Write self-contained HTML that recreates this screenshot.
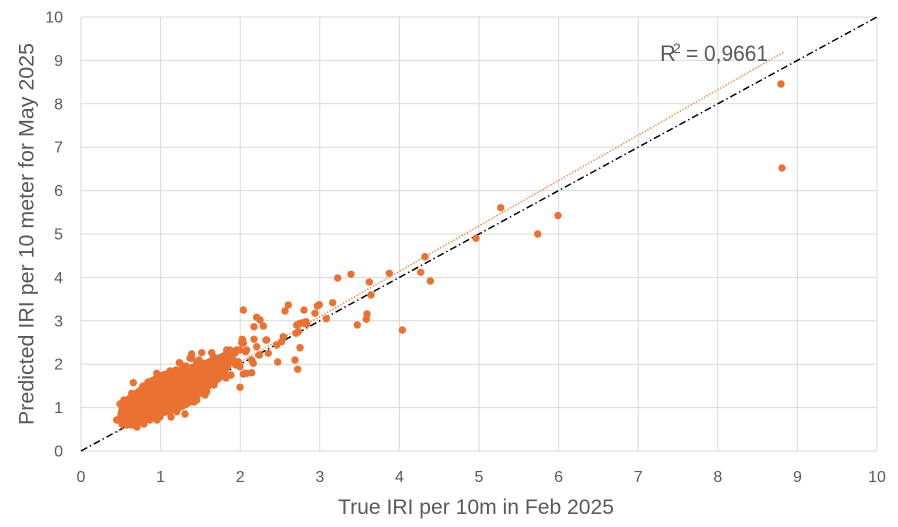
<!DOCTYPE html>
<html><head><meta charset="utf-8"><style>
html,body{margin:0;padding:0;background:#fff;}
svg{display:block;font-family:"Liberation Sans",Arial,sans-serif;}
</style></head><body>
<svg width="898" height="527" viewBox="0 0 898 527" xmlns="http://www.w3.org/2000/svg">
<rect width="898" height="527" fill="#fff"/>
<g stroke="#d9d9d9" stroke-width="1">
<line x1="160.6" y1="17" x2="160.6" y2="451"/><line x1="240.2" y1="17" x2="240.2" y2="451"/><line x1="319.8" y1="17" x2="319.8" y2="451"/><line x1="399.4" y1="17" x2="399.4" y2="451"/><line x1="479" y1="17" x2="479" y2="451"/><line x1="558.6" y1="17" x2="558.6" y2="451"/><line x1="638.2" y1="17" x2="638.2" y2="451"/><line x1="717.8" y1="17" x2="717.8" y2="451"/><line x1="797.4" y1="17" x2="797.4" y2="451"/><line x1="877" y1="17" x2="877" y2="451"/>
<line x1="81" y1="17" x2="877" y2="17"/><line x1="81" y1="60.4" x2="877" y2="60.4"/><line x1="81" y1="103.8" x2="877" y2="103.8"/><line x1="81" y1="147.2" x2="877" y2="147.2"/><line x1="81" y1="190.6" x2="877" y2="190.6"/><line x1="81" y1="234" x2="877" y2="234"/><line x1="81" y1="277.4" x2="877" y2="277.4"/><line x1="81" y1="320.8" x2="877" y2="320.8"/><line x1="81" y1="364.2" x2="877" y2="364.2"/><line x1="81" y1="407.6" x2="877" y2="407.6"/>
<line x1="81" y1="451" x2="877" y2="451"/><line x1="81" y1="17" x2="81" y2="451"/>
</g>
<line x1="81" y1="451" x2="877" y2="17" stroke="#000" stroke-width="1.5" stroke-dasharray="7 3 1.5 3"/>
<line x1="116.8" y1="432.4" x2="783.9" y2="52.1" stroke="#f08a4b" stroke-width="1.5" stroke-dasharray="1.5 1.6"/>
<g fill="#595959" font-size="16" text-anchor="end">
<text x="63" y="456.5">0</text><text x="63" y="413.1">1</text><text x="63" y="369.7">2</text><text x="63" y="326.3">3</text><text x="63" y="282.9">4</text><text x="63" y="239.5">5</text><text x="63" y="196.1">6</text><text x="63" y="152.7">7</text><text x="63" y="109.3">8</text><text x="63" y="65.9">9</text><text x="63" y="22.5">10</text>
</g>
<g fill="#595959" font-size="16" text-anchor="middle">
<text x="81" y="482">0</text><text x="160.6" y="482">1</text><text x="240.2" y="482">2</text><text x="319.8" y="482">3</text><text x="399.4" y="482">4</text><text x="479" y="482">5</text><text x="558.6" y="482">6</text><text x="638.2" y="482">7</text><text x="717.8" y="482">8</text><text x="797.4" y="482">9</text><text x="877" y="482">10</text>
</g>
<text x="476" y="514" fill="#595959" font-size="21" text-anchor="middle" textLength="276" lengthAdjust="spacingAndGlyphs">True IRI per 10m in Feb 2025</text>
<text transform="translate(33.5,234) rotate(-90)" fill="#595959" font-size="21" text-anchor="middle" textLength="382" lengthAdjust="spacingAndGlyphs">Predicted IRI per 10 meter for May 2025</text>
<text x="660" y="61" fill="#595959" font-size="22">R</text>
<text x="673" y="53" fill="#595959" font-size="14">2</text>
<text x="686" y="61" fill="#595959" font-size="22" textLength="82" lengthAdjust="spacingAndGlyphs">= 0,9661</text>
<g fill="#e97132">
<path d="M120,417 L122,407 L129,398 L141,389 L152,380 L164,374 L180,370 L196,366 L208,362 L220,357 L232,351 L234,353 L230,362 L225,372 L219,379 L208,387 L197,396 L188,404 L178,409 L164,413 L148,419 L131,423 Z" stroke="#e97132" stroke-width="6" stroke-linejoin="round"/>
<g>
<circle cx="143" cy="386" r="3.7"/><circle cx="148" cy="382" r="3.7"/><circle cx="170" cy="371" r="3.7"/><circle cx="176" cy="370" r="3.7"/><circle cx="186" cy="366" r="3.7"/><circle cx="120" cy="404" r="3.7"/><circle cx="124" cy="400" r="3.7"/><circle cx="122" cy="424" r="3.7"/><circle cx="137" cy="427" r="3.7"/><circle cx="144" cy="424" r="3.7"/><circle cx="157" cy="420" r="3.7"/><circle cx="171" cy="417" r="3.7"/><circle cx="194" cy="402" r="3.7"/><circle cx="214" cy="385" r="3.7"/><circle cx="226" cy="378" r="3.7"/>
</g>
<circle cx="133.3" cy="382.7" r="3.7"/><circle cx="156.7" cy="373.3" r="3.7"/><circle cx="163.3" cy="375" r="3.7"/><circle cx="179.3" cy="362.7" r="3.7"/><circle cx="170" cy="375" r="3.7"/><circle cx="183.3" cy="370" r="3.7"/><circle cx="191.7" cy="354" r="3.7"/><circle cx="199" cy="360" r="3.7"/><circle cx="201.7" cy="352.7" r="3.7"/><circle cx="211.7" cy="352.7" r="3.7"/><circle cx="215" cy="358.3" r="3.7"/><circle cx="198.3" cy="366.7" r="3.7"/><circle cx="206.7" cy="391.7" r="3.7"/><circle cx="205" cy="395" r="3.7"/><circle cx="185" cy="414" r="3.7"/><circle cx="131.7" cy="393.3" r="3.7"/><circle cx="116.7" cy="420" r="3.7"/><circle cx="226.7" cy="350" r="3.7"/><circle cx="231.7" cy="353.3" r="3.7"/><circle cx="236.7" cy="350" r="3.7"/><circle cx="241.7" cy="342.7" r="3.7"/><circle cx="245.7" cy="351.7" r="3.7"/><circle cx="231" cy="375" r="3.7"/><circle cx="240" cy="387.3" r="3.7"/><circle cx="246.7" cy="373.3" r="3.7"/><circle cx="218.3" cy="368.3" r="3.7"/><circle cx="225" cy="366" r="3.7"/><circle cx="188.3" cy="398.3" r="3.7"/><circle cx="196.7" cy="400" r="3.7"/><circle cx="150" cy="420" r="3.7"/><circle cx="126.7" cy="425" r="3.7"/><circle cx="140" cy="421.7" r="3.7"/><circle cx="160" cy="416.7" r="3.7"/><circle cx="176.7" cy="411.7" r="3.7"/><circle cx="131.7" cy="425" r="3.7"/><circle cx="180" cy="363.3" r="3.7"/><circle cx="203.3" cy="390" r="3.7"/>
<circle cx="254" cy="326.7" r="3.7"/><circle cx="242.7" cy="340" r="3.7"/><circle cx="243.3" cy="343.3" r="3.7"/><circle cx="266.7" cy="340" r="3.7"/><circle cx="230" cy="350" r="3.7"/><circle cx="240" cy="350" r="3.7"/><circle cx="191.7" cy="358.3" r="3.7"/><circle cx="196.7" cy="363.3" r="3.7"/><circle cx="221.7" cy="358.3" r="3.7"/><circle cx="233.3" cy="360" r="3.7"/><circle cx="256.7" cy="346.7" r="3.7"/><circle cx="259.3" cy="355" r="3.7"/><circle cx="236.7" cy="365" r="3.7"/><circle cx="240" cy="366.7" r="3.7"/><circle cx="253.3" cy="363.3" r="3.7"/><circle cx="251.7" cy="360" r="3.7"/><circle cx="245" cy="373.3" r="3.7"/><circle cx="251.7" cy="372.7" r="3.7"/><circle cx="238.3" cy="361.7" r="3.7"/><circle cx="203.3" cy="363.3" r="3.7"/><circle cx="210" cy="366.7" r="3.7"/><circle cx="216.7" cy="363.3" r="3.7"/><circle cx="220" cy="373.3" r="3.7"/><circle cx="206.7" cy="376.7" r="3.7"/>
<circle cx="288.3" cy="305" r="3.7"/><circle cx="285" cy="311" r="3.7"/><circle cx="243.3" cy="310" r="3.7"/><circle cx="256.7" cy="317.3" r="3.7"/><circle cx="260" cy="320" r="3.7"/><circle cx="263.3" cy="326" r="3.7"/><circle cx="306" cy="321.7" r="3.7"/><circle cx="303.3" cy="322.7" r="3.7"/><circle cx="300" cy="323.3" r="3.7"/><circle cx="296.7" cy="325" r="3.7"/><circle cx="298.3" cy="331.7" r="3.7"/><circle cx="296" cy="333.3" r="3.7"/><circle cx="283.3" cy="336.7" r="3.7"/><circle cx="281.7" cy="341.7" r="3.7"/><circle cx="300" cy="347.7" r="3.7"/><circle cx="277.7" cy="362" r="3.7"/><circle cx="295" cy="360" r="3.7"/><circle cx="297.7" cy="369.3" r="3.7"/><circle cx="266" cy="340" r="3.7"/><circle cx="254" cy="339.3" r="3.7"/><circle cx="242.3" cy="339.3" r="3.7"/><circle cx="268.3" cy="353.3" r="3.7"/><circle cx="246.7" cy="350" r="3.7"/><circle cx="237.3" cy="350" r="3.7"/><circle cx="235" cy="353.3" r="3.7"/><circle cx="190" cy="358.3" r="3.7"/><circle cx="198.3" cy="361" r="3.7"/><circle cx="213.3" cy="356.7" r="3.7"/><circle cx="210" cy="361.7" r="3.7"/><circle cx="226.7" cy="356.7" r="3.7"/><circle cx="233.3" cy="363.3" r="3.7"/><circle cx="230" cy="360" r="3.7"/><circle cx="243.3" cy="374" r="3.7"/><circle cx="221.7" cy="368.3" r="3.7"/><circle cx="205" cy="370" r="3.7"/><circle cx="196.7" cy="371.7" r="3.7"/><circle cx="276.7" cy="345" r="3.7"/>
<circle cx="781" cy="84" r="3.7"/><circle cx="782" cy="168" r="3.7"/><circle cx="558" cy="215.5" r="3.7"/><circle cx="537.7" cy="234" r="3.7"/><circle cx="500.7" cy="207.7" r="3.7"/><circle cx="476" cy="238.3" r="3.7"/><circle cx="425" cy="256.7" r="3.7"/><circle cx="420.7" cy="272.3" r="3.7"/><circle cx="430.3" cy="281" r="3.7"/><circle cx="389.3" cy="273.3" r="3.7"/><circle cx="351" cy="274.3" r="3.7"/><circle cx="337.7" cy="278" r="3.7"/><circle cx="369.3" cy="282" r="3.7"/><circle cx="371" cy="295" r="3.7"/><circle cx="332.7" cy="302.7" r="3.7"/><circle cx="319.3" cy="304.7" r="3.7"/><circle cx="317.3" cy="306" r="3.7"/><circle cx="304" cy="310" r="3.7"/><circle cx="315" cy="313.3" r="3.7"/><circle cx="326.3" cy="318.7" r="3.7"/><circle cx="367" cy="314" r="3.7"/><circle cx="366.3" cy="319.3" r="3.7"/><circle cx="357.3" cy="325" r="3.7"/><circle cx="402.3" cy="330" r="3.7"/><circle cx="303.3" cy="323.3" r="3.7"/><circle cx="306.7" cy="324" r="3.7"/>
</g>
</svg>
</body></html>
